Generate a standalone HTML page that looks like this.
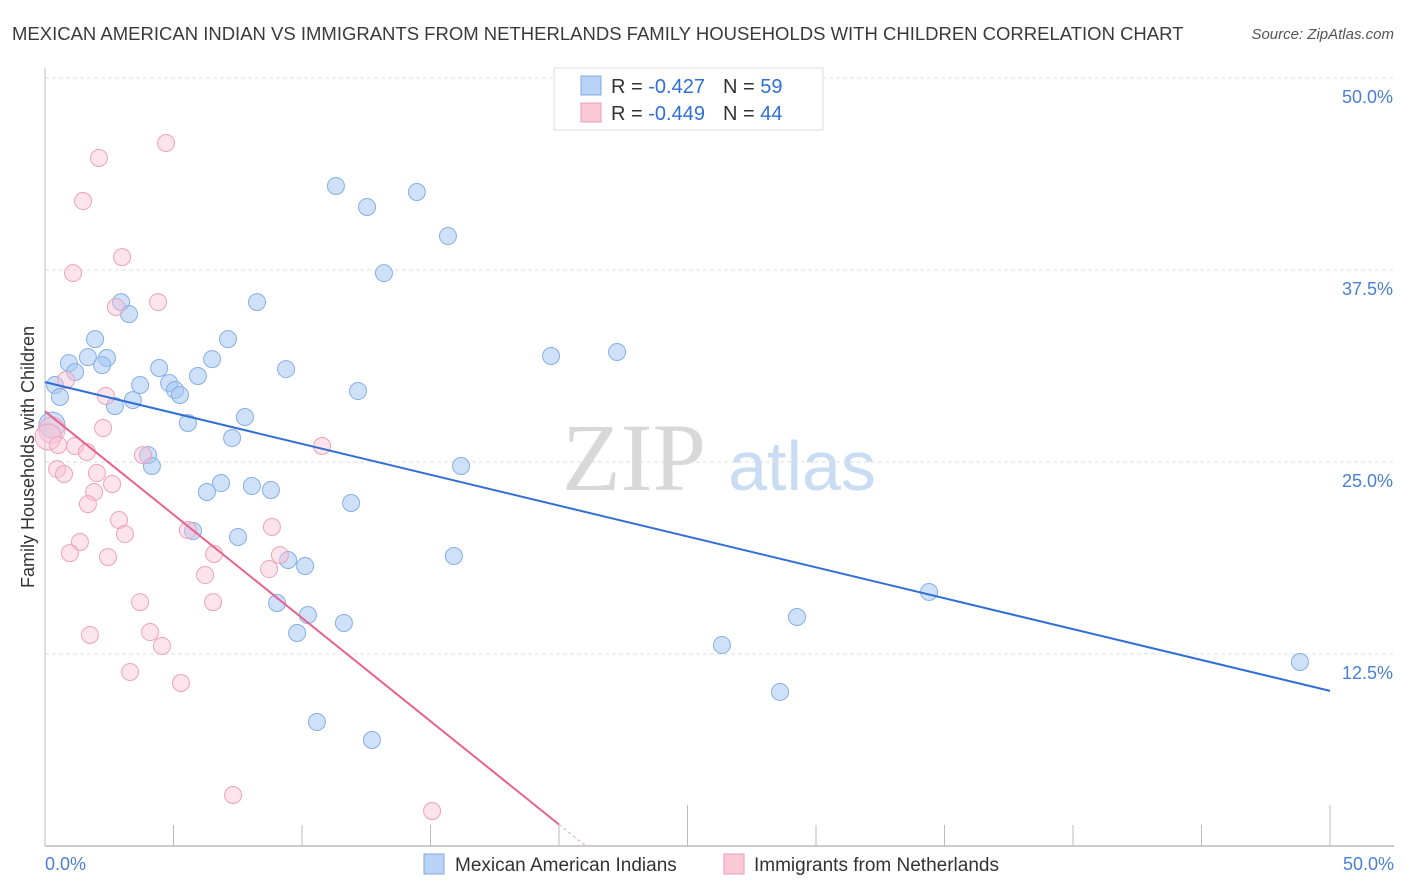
<!DOCTYPE html>
<html><head><meta charset="utf-8"><style>
body{margin:0;background:#fff;font-family:"Liberation Sans",sans-serif;}
#wrap{position:relative;width:1406px;height:892px;overflow:hidden}
</style></head><body><div id="wrap">
<svg id="c" width="1406" height="892" xmlns="http://www.w3.org/2000/svg">
<text x="12" y="40" font-size="18.5" fill="#3a3a3a">MEXICAN AMERICAN INDIAN VS IMMIGRANTS FROM NETHERLANDS FAMILY HOUSEHOLDS WITH CHILDREN CORRELATION CHART</text>
<text x="1394" y="39" font-size="15" fill="#555" font-style="italic" text-anchor="end">Source: ZipAtlas.com</text>
<text x="634" y="490" font-size="96" fill="#d8d8d8" font-family="Liberation Serif,serif" text-anchor="middle">ZIP</text>
<text x="802" y="490" font-size="70" fill="#c9dcf3" text-anchor="middle">atlas</text>
<g id="grid"></g><g id="axes"></g><g id="pts"></g><g id="lines"></g>
<text transform="translate(34,457) rotate(-90)" font-size="18" fill="#333" text-anchor="middle">Family Households with Children</text>
<g>
<rect x="554" y="68" width="269" height="62" fill="#fff" stroke="#ddd"/>
<rect x="581" y="76" width="20" height="19" fill="#b8d3f5" stroke="#7ea9e3"/>
<text x="611" y="93" font-size="20" fill="#333">R = <tspan fill="#2f6fd6">-0.427</tspan><tspan dx="18">N = </tspan><tspan fill="#2f6fd6">59</tspan></text>
<rect x="581" y="103" width="20" height="19" fill="#f9c9d7" stroke="#ee9ab5"/>
<text x="611" y="120" font-size="20" fill="#333">R = <tspan fill="#2f6fd6">-0.449</tspan><tspan dx="18">N = </tspan><tspan fill="#2f6fd6">44</tspan></text>
</g>
<g>
<rect x="424" y="854" width="20" height="20" fill="#b8d3f5" stroke="#7ea9e3"/>
<text x="455" y="871" font-size="19" fill="#333">Mexican American Indians</text>
<rect x="724" y="854" width="20" height="20" fill="#f9c9d7" stroke="#ee9ab5"/>
<text x="754" y="871" font-size="19" fill="#333">Immigrants from Netherlands</text>
</g>
</svg></div>
<script>
const blueX=[11.32,12.53,14.47,15.68,13.19,8.25,2.96,3.27,7.12,1.95,0.93,1.67,2.41,2.22,1.17,6.50,4.44,9.38,5.95,3.70,4.83,5.06,5.25,12.18,3.42,2.72,0.39,0.58,0.27,7.78,5.56,7.28,19.69,22.26,4.01,4.16,16.19,6.85,6.30,8.05,8.79,11.91,5.76,7.51,9.46,10.12,15.91,34.40,9.03,10.23,11.63,9.81,29.26,26.34,28.60,48.83,10.58,12.72];
const blueY=[42.97,41.6,42.58,39.71,37.30,35.41,35.41,34.63,33.0,33.0,31.44,31.83,31.77,31.31,30.86,31.70,31.12,31.05,30.60,30.01,30.14,29.69,29.36,29.62,29.03,28.64,30.01,29.23,27.41,27.93,27.54,26.56,31.90,32.16,25.45,24.74,24.74,23.63,23.05,23.44,23.18,22.33,20.51,20.12,18.62,18.23,18.88,16.54,15.82,15.04,14.52,13.87,14.91,13.09,10.03,11.98,8.07,6.90];
const pinkX=[4.71,2.10,1.48,1.09,3.00,4.40,2.76,0.82,2.37,0.27,0.12,2.26,0.51,1.17,1.63,3.81,10.78,0.47,0.74,2.02,2.61,1.91,1.67,2.88,3.11,1.36,0.97,2.45,5.56,8.83,6.58,9.14,8.72,6.23,3.70,6.54,1.75,4.09,4.55,3.31,5.29,7.32,15.06];
const pinkY=[45.77,44.79,41.99,37.30,38.34,35.41,35.09,30.34,29.30,27.08,26.63,27.21,26.11,26.04,25.65,25.45,26.04,24.54,24.22,24.28,23.57,23.05,22.26,21.22,20.31,19.79,19.07,18.81,20.57,20.77,19.01,18.94,18.03,17.64,15.88,15.88,13.74,13.93,13.02,11.33,10.61,3.32,2.28];
const blueLine=[30.2,-0.402];
const pinkLine=[28.3,-1.345];
const yTicks=[12.5,25.0,37.5,50.0];
const xTickLabels=["0.0%","50.0%"];
const NS="http://www.w3.org/2000/svg";
const X=v=>45+v/50*1285, Y=v=>846-v/50*768;
function mk(t,a,p){const e=document.createElementNS(NS,t);for(const k in a)e.setAttribute(k,a[k]);document.getElementById(p).appendChild(e);return e;}
yTicks.forEach(t=>{
 const l=mk('line',{x1:45,x2:1394,y1:Y(t),y2:Y(t),stroke:'#ddd','stroke-dasharray':'4,3'},'grid');
 
 
 const tx=mk('text',{x:1393,y:Y(t)+25,'font-size':18,fill:'#4a7fd4','text-anchor':'end'},'grid');
 tx.textContent=t.toFixed(1)+'%';
 
 
});
mk('line',{x1:45,x2:45,y1:68,y2:846,stroke:'#bbb'},'axes');
mk('line',{x1:45,x2:1394,y1:846,y2:846,stroke:'#bbb','stroke-width':1.5},'axes');
for(let i=1;i<=10;i++){const v=i*5;mk('line',{x1:X(v),x2:X(v),y1:(i%5==0)?805:825,y2:846,stroke:'#bbb'},'axes');}
[[0,'start',45],[50,'end',1394]].forEach((d,i)=>{const t=mk('text',{x:d[2],y:870,'font-size':18,fill:'#4a7fd4','text-anchor':d[1]},'axes');t.textContent=xTickLabels[i];
 
 });
function pts(xs,ys,fill,stroke,name){xs.forEach((x,i)=>{const big=(x<0.3&&ys[i]>26.5&&ys[i]<28);const c=mk('circle',{cx:X(x),cy:Y(ys[i]),r:big?13:8.5,fill:fill,stroke:stroke,'stroke-width':1},'pts');
 
 });}
pts(blueX,blueY,'rgba(165,200,242,0.55)','#86aee6','blue-point');
pts(pinkX,pinkY,'rgba(248,192,212,0.45)','#eea2bb','pink-point');
const bl=mk('line',{x1:X(0),y1:Y(blueLine[0]),x2:X(50),y2:Y(blueLine[0]+blueLine[1]*50),stroke:'#2f6fd6','stroke-width':2},'lines');


const xe=20.0, x0=-pinkLine[0]/pinkLine[1];
const pl=mk('line',{x1:X(0),y1:Y(pinkLine[0]),x2:X(xe),y2:Y(pinkLine[0]+pinkLine[1]*xe),stroke:'#e8628f','stroke-width':2},'lines');


const pd=mk('line',{x1:X(xe),y1:Y(pinkLine[0]+pinkLine[1]*xe),x2:X(x0),y2:Y(0),stroke:'#e8a0b8','stroke-width':1,'stroke-dasharray':'3,3'},'lines');


</script></body></html>
